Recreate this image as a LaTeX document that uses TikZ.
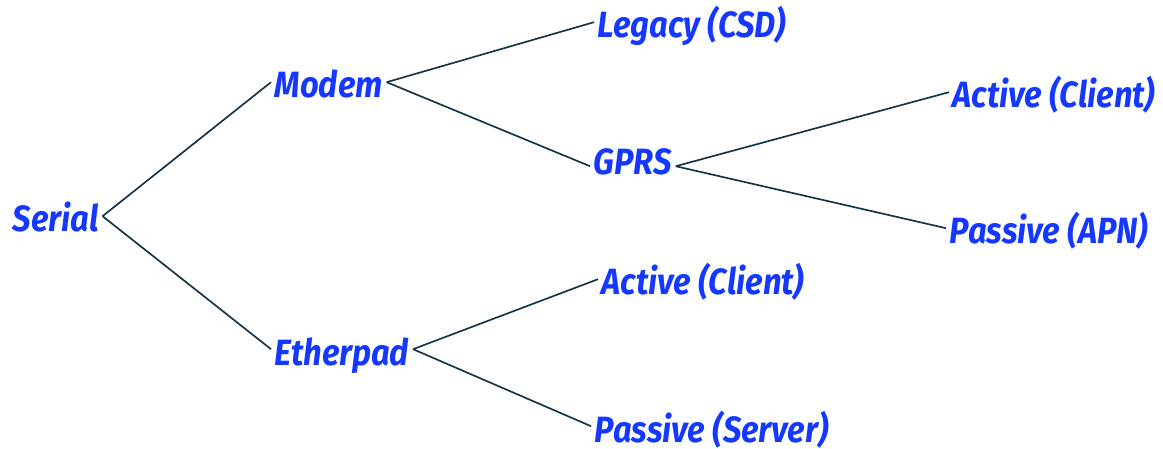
\documentclass[tikz,border=0pt]{standalone}
\usepackage{fontspec}
\newfontfamily\treefont{Fira Sans}[FakeStretch=0.895]
\usetikzlibrary{positioning}
\definecolor{labelblue}{RGB}{20,56,255}
\definecolor{branchline}{RGB}{20,52,70}

\begin{document}
\begin{tikzpicture}[
                x=0.02cm, y=-0.02cm,
                branch/.style={draw=branchline, line width=0.95pt},
                leaf/.style={text=labelblue, font=\treefont\bfseries\itshape\fontsize{20.8}{24}\selectfont,
                    inner xsep=2pt, inner ysep=0pt, text height=18pt, text depth=0pt, anchor=base west},
            ]
                \useasboundingbox (0,0) rectangle (1163,449);

                % Draw the root and the first level
                \node[leaf] (serial) at (9,232) {Serial};
                \node[leaf] (modem) at (271,98) {Modem};
                \node[leaf] (etherpad) at (271,365) {Etherpad};

                % Draw the second level
                \node[leaf] (legacy) at (594,38) {Legacy (CSD)};
                \node[leaf] (gprs) at (590,175) {GPRS};
                \node[leaf] (active-e) at (598,295) {Active (Client)};
                \node[leaf] (passive-e) at (591,442) {Passive (Server)};

                % Draw the third level
                \node[leaf] (active-g) at (949,108) {Active (Client)};
                \node[leaf] (passive-g) at (946,244) {Passive (APN)};

                % Connect every parent with its children
                \foreach \source / \dest in {serial/modem, serial/etherpad, modem/legacy,
                        etherpad/active-e, etherpad/passive-e}
                    \draw[branch] (\source.east) -- (\dest.west);
                \draw[branch] (modem.east) -- ([yshift=-4pt]gprs.west);
                \foreach \dest in {active-g, passive-g}
                    \draw[branch] ([yshift=-4pt]gprs.east) -- (\dest.west);
            \end{tikzpicture}
\end{document}
